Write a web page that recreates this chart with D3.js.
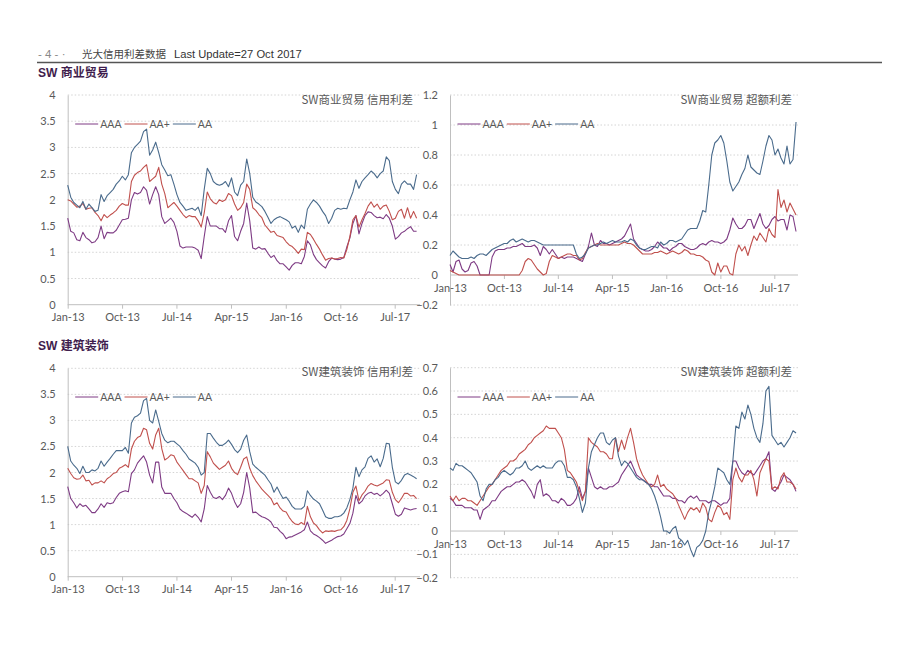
<!DOCTYPE html>
<html><head><meta charset="utf-8">
<script src="https://cdn.jsdelivr.net/npm/d3@7/dist/d3.min.js"></script>
<style>
body{margin:0;background:#fff;}
svg{display:block;}
</style></head>
<body>
<svg id="c" width="920" height="651"></svg>
<script>
// ---------- data ----------
const seriesNames = ["AAA", "AA+", "AA"];
const xTickLabels = ["Jan-13","Oct-13","Jul-14","Apr-15","Jan-16","Oct-16","Jul-17"];
const startDate = new Date(2013,0,1), endDate = new Date(2017,9,19);
const nPoints = 116;
const dates = d3.range(nPoints).map(i => new Date(+startDate + i*(endDate-startDate)/(nPoints-1)));

// SW 商业贸易 信用利差
const tradeCreditAAA = [1.65,1.4,1.37,1.24,1.22,1.38,1.28,1.24,1.18,1.2,
1.28,1.5,1.26,1.38,1.37,1.37,1.42,1.52,1.62,1.63,
1.65,2.0,2.14,2.11,2.14,2.25,2.18,1.92,2.1,2.25,
2.1,1.68,1.55,1.6,1.65,1.57,1.4,1.12,1.08,1.1,
1.1,1.1,1.08,1.04,0.88,1.3,1.68,1.5,1.5,1.5,
1.45,1.45,1.38,1.6,1.7,1.3,1.22,1.4,1.55,1.94,
1.6,1.08,1.06,1.1,1.06,1.07,0.98,0.9,0.94,0.84,
0.78,0.78,0.72,0.66,0.75,0.8,0.8,0.78,0.92,1.22,
1.14,0.96,0.86,0.8,0.74,0.7,0.82,0.89,0.87,0.86,
0.87,0.9,1.1,1.27,1.55,1.7,1.35,1.55,1.7,1.77,
1.76,1.7,1.66,1.67,1.64,1.72,1.65,1.5,1.25,1.3,
1.37,1.4,1.45,1.49,1.4,1.4];
const tradeCreditAAp = [2.0,1.98,1.92,1.86,1.88,1.93,1.82,1.84,1.85,1.76,
1.7,1.6,1.72,1.66,1.71,1.75,1.8,1.88,1.93,1.9,
1.9,2.35,2.47,2.52,2.55,2.62,2.67,2.35,2.4,2.45,
2.62,2.3,2.12,1.85,1.9,1.95,1.88,1.8,1.72,1.66,
1.7,1.68,1.68,1.6,1.48,1.75,2.15,2.02,1.95,1.92,
2.0,1.97,2.0,2.12,2.08,1.92,1.8,1.85,1.95,2.3,
2.2,1.85,1.8,1.72,1.66,1.52,1.45,1.38,1.4,1.32,
1.3,1.28,1.2,1.14,1.11,1.05,0.98,1.06,1.05,1.38,
1.34,1.25,1.15,1.06,0.95,0.85,0.88,0.89,0.87,0.88,
0.9,0.89,1.05,1.3,1.62,1.7,1.48,1.62,1.74,1.88,
1.96,1.86,1.92,1.82,1.88,1.9,1.78,1.62,1.65,1.78,
1.82,1.65,1.85,1.65,1.78,1.65];
const tradeCreditAA = [2.28,2.05,1.95,1.9,1.85,1.97,1.82,1.92,1.85,1.78,
1.8,2.1,1.97,2.08,2.14,2.2,2.3,2.36,2.45,2.38,
2.48,2.9,3.0,3.06,3.12,3.3,3.35,2.85,2.95,3.1,
2.9,2.67,2.57,2.46,2.48,2.3,2.1,1.95,1.88,1.8,
1.82,1.84,1.8,1.86,1.7,2.2,2.6,2.5,2.35,2.3,
2.28,2.3,2.35,2.25,2.42,2.15,2.08,2.28,2.35,2.78,
2.5,2.05,1.96,1.92,1.87,1.78,1.67,1.55,1.62,1.66,
1.68,1.65,1.62,1.58,1.46,1.5,1.38,1.52,1.45,1.82,
1.92,2.0,1.95,1.88,1.78,1.7,1.55,1.65,1.8,1.84,
1.82,1.84,1.83,2.0,2.15,2.38,2.22,2.35,2.42,2.48,
2.55,2.5,2.42,2.5,2.55,2.82,2.75,2.35,2.2,2.12,
2.3,2.36,2.3,2.3,2.2,2.48];

// SW 商业贸易 超额利差
const tradeExcessAAA = [0.07,0.02,0.09,0.1,0.04,0.02,0.03,0.08,0.09,0.06,
0,0,0,0,0.12,0.16,0.17,0.17,0.17,0.18,
0.18,0.19,0.19,0.2,0.21,0.19,0.19,0.19,0.2,0.18,
0.13,0.19,0.17,0.14,0.17,0.14,0.11,0.12,0.11,0.12,
0.12,0.12,0.11,0.1,0.09,0.14,0.19,0.28,0.2,0.19,
0.23,0.21,0.21,0.2,0.21,0.22,0.23,0.24,0.26,0.3,
0.34,0.24,0.21,0.18,0.17,0.16,0.16,0.17,0.19,0.22,
0.2,0.18,0.18,0.16,0.18,0.19,0.21,0.21,0.19,0.18,
0.17,0.17,0.18,0.2,0.21,0.2,0.22,0.23,0.22,0.22,
0.21,0.22,0.24,0.3,0.38,0.34,0.31,0.31,0.33,0.37,
0.37,0.31,0.36,0.41,0.34,0.31,0.33,0.37,0.39,0.36,
0.37,0.37,0.3,0.4,0.39,0.29];
const tradeExcessAAp = [0.03,0.02,0.01,0,0,0,0,0,0,0,
0,0,0,0,0,0,0,0,0,0,
0,0,0,0,0.03,0.09,0.11,0.1,0.07,0.04,
0.02,0,0.01,0.09,0.13,0.12,0.11,0.12,0.13,0.14,
0.14,0.13,0.13,0.1,0.11,0.15,0.18,0.19,0.2,0.21,
0.2,0.2,0.2,0.2,0.2,0.2,0.2,0.21,0.22,0.21,
0.21,0.2,0.18,0.16,0.14,0.14,0.14,0.14,0.15,0.15,
0.16,0.15,0.14,0.15,0.16,0.15,0.14,0.15,0.17,0.16,
0.14,0.14,0.13,0.13,0.12,0.1,0.09,0.02,0,0.08,
0.02,0.06,0.06,0.01,0,0.14,0.2,0.16,0.19,0.13,
0.2,0.26,0.23,0.28,0.25,0.22,0.31,0.27,0.25,0.57,
0.45,0.5,0.42,0.48,0.44,0.4];
const tradeExcessAA = [0.13,0.16,0.14,0.12,0.11,0.11,0.11,0.12,0.11,0.13,
0.14,0.14,0.13,0.15,0.17,0.18,0.19,0.2,0.21,0.21,
0.23,0.24,0.22,0.23,0.24,0.23,0.22,0.23,0.23,0.22,
0.21,0.2,0.2,0.2,0.2,0.2,0.2,0.2,0.2,0.2,
0.2,0.2,0.14,0.11,0.12,0.14,0.18,0.19,0.2,0.2,
0.21,0.22,0.21,0.22,0.23,0.22,0.22,0.22,0.23,0.22,
0.24,0.23,0.2,0.18,0.17,0.17,0.18,0.19,0.19,0.18,
0.22,0.2,0.21,0.23,0.23,0.22,0.23,0.24,0.27,0.3,
0.31,0.31,0.31,0.36,0.43,0.42,0.6,0.8,0.88,0.9,
0.93,0.88,0.76,0.62,0.56,0.59,0.62,0.67,0.71,0.8,
0.72,0.7,0.68,0.67,0.76,0.86,0.93,0.9,0.8,0.84,
0.78,0.74,0.86,0.74,0.77,1.02];

// SW 建筑装饰 信用利差
const constrCreditAAA = [1.73,1.5,1.42,1.32,1.4,1.35,1.37,1.3,1.23,1.23,
1.3,1.4,1.33,1.42,1.4,1.42,1.52,1.6,1.63,1.65,
1.63,1.98,2.05,2.18,2.25,2.32,2.2,1.95,1.8,2.2,
2.2,1.72,1.6,1.6,1.6,1.5,1.42,1.3,1.25,1.22,
1.18,1.14,1.2,1.14,1.05,1.3,1.75,1.62,1.52,1.5,
1.54,1.48,1.56,1.7,1.6,1.44,1.33,1.4,1.62,2.0,
1.7,1.23,1.24,1.19,1.15,1.13,1.1,1.05,0.95,0.94,
0.87,0.82,0.73,0.76,0.77,0.8,0.83,0.86,0.9,1.05,
0.88,0.82,0.79,0.75,0.7,0.64,0.67,0.7,0.74,0.77,
0.78,0.82,0.92,1.02,1.22,1.56,1.4,1.45,1.55,1.6,
1.62,1.58,1.6,1.55,1.6,1.66,1.6,1.4,1.2,1.16,
1.2,1.32,1.3,1.28,1.3,1.31];
const constrCreditAAp = [2.08,1.98,1.9,1.87,1.88,1.95,1.84,1.85,1.76,1.8,
1.8,1.84,1.8,1.88,1.92,1.98,2.0,2.08,2.11,2.15,
2.1,2.45,2.6,2.67,2.7,2.85,2.82,2.56,2.45,2.72,
2.85,2.46,2.24,2.28,2.34,2.32,2.2,2.12,2.04,1.96,
1.88,1.88,1.84,1.8,1.6,1.75,2.4,2.3,2.18,2.12,
2.06,2.1,2.14,2.22,2.08,2.0,1.96,2.1,2.26,2.3,
2.08,1.94,1.84,1.76,1.68,1.62,1.56,1.5,1.38,1.42,
1.32,1.26,1.24,1.14,1.06,1.01,1.0,1.04,1.0,1.35,
1.15,1.03,0.98,0.9,0.84,0.88,0.87,0.88,0.87,0.89,
0.9,0.96,1.08,1.3,1.62,1.74,1.46,1.57,1.64,1.74,
1.79,1.76,1.74,1.77,1.8,1.86,1.85,1.62,1.48,1.42,
1.5,1.6,1.6,1.55,1.56,1.5];
const constrCreditAA = [2.5,2.22,2.14,2.08,1.98,2.12,2.0,2.0,2.05,2.03,
2.08,2.22,2.12,2.2,2.27,2.35,2.42,2.42,2.42,2.48,
2.37,2.95,3.06,3.09,3.14,3.38,3.42,3.0,2.95,3.2,
2.98,2.75,2.62,2.57,2.6,2.6,2.55,2.5,2.42,2.35,
2.26,2.22,2.18,2.1,1.95,2.0,2.75,2.75,2.66,2.58,
2.52,2.52,2.56,2.62,2.54,2.44,2.38,2.45,2.62,2.72,
2.4,2.16,2.1,2.05,2.0,1.95,1.86,1.78,1.62,1.72,
1.6,1.5,1.53,1.45,1.35,1.3,1.3,1.3,1.35,1.65,
1.56,1.49,1.45,1.4,1.28,1.15,1.12,1.12,1.15,1.15,
1.17,1.22,1.32,1.48,1.7,2.1,1.92,2.05,2.11,2.27,
2.32,2.2,2.26,2.11,2.27,2.56,2.55,2.1,1.82,1.78,
1.85,1.95,1.98,1.95,1.92,1.88];

// SW 建筑装饰 超额利差
const constrExcessAAA = [0.14,0.13,0.11,0.11,0.11,0.1,0.1,0.1,0.09,0.09,
0.05,0.09,0.1,0.11,0.13,0.13,0.15,0.17,0.18,0.19,
0.19,0.2,0.21,0.21,0.22,0.21,0.19,0.17,0.14,0.2,
0.22,0.15,0.16,0.15,0.13,0.13,0.12,0.14,0.13,0.11,
0.11,0.12,0.14,0.19,0.14,0.17,0.27,0.23,0.19,0.18,
0.19,0.18,0.18,0.19,0.19,0.2,0.21,0.24,0.26,0.28,
0.3,0.27,0.24,0.23,0.22,0.21,0.2,0.2,0.19,0.19,
0.17,0.15,0.15,0.15,0.14,0.14,0.13,0.13,0.12,0.14,
0.15,0.14,0.15,0.13,0.13,0.13,0.12,0.13,0.13,0.12,
0.11,0.12,0.12,0.14,0.3,0.3,0.27,0.25,0.24,0.26,
0.25,0.24,0.26,0.28,0.3,0.31,0.34,0.18,0.17,0.19,
0.21,0.24,0.23,0.22,0.2,0.17];
const constrExcessAAp = [0.15,0.13,0.15,0.13,0.14,0.14,0.13,0.13,0.12,0.11,
0.13,0.15,0.17,0.19,0.2,0.22,0.24,0.26,0.27,0.28,
0.3,0.3,0.31,0.33,0.34,0.35,0.37,0.38,0.4,0.41,
0.42,0.43,0.45,0.44,0.44,0.44,0.42,0.4,0.35,0.26,
0.25,0.23,0.21,0.17,0.13,0.17,0.4,0.38,0.37,0.36,
0.34,0.34,0.33,0.31,0.31,0.4,0.34,0.39,0.35,0.4,
0.44,0.38,0.31,0.27,0.24,0.22,0.2,0.19,0.2,0.24,
0.19,0.2,0.18,0.17,0.16,0.14,0.11,0.08,0.05,0.08,
0.1,0.09,0.1,0.08,0.12,0.1,0.05,0.04,0.08,0.11,
0.1,0.07,0.08,0.05,0.22,0.27,0.23,0.21,0.24,0.24,
0.26,0.22,0.15,0.25,0.28,0.31,0.3,0.18,0.19,0.18,
0.23,0.25,0.21,0.21,0.2,0.18];
const constrExcessAA = [0.27,0.26,0.29,0.28,0.28,0.27,0.26,0.25,0.23,0.21,
0.15,0.13,0.18,0.2,0.2,0.22,0.23,0.25,0.26,0.25,
0.24,0.25,0.27,0.27,0.28,0.3,0.27,0.26,0.27,0.28,
0.27,0.28,0.27,0.27,0.27,0.29,0.3,0.3,0.28,0.23,
0.23,0.22,0.19,0.14,0.08,0.12,0.27,0.34,0.37,0.4,
0.42,0.42,0.38,0.37,0.39,0.4,0.32,0.28,0.3,0.29,
0.27,0.25,0.23,0.22,0.22,0.21,0.2,0.18,0.15,0.11,
0.06,0.0,0.0,-0.01,0.01,0.02,-0.03,-0.04,-0.06,-0.04,
-0.08,-0.11,-0.07,-0.06,-0.04,0.0,0.08,0.13,0.19,0.27,
0.26,0.25,0.22,0.2,0.3,0.45,0.44,0.51,0.48,0.54,
0.5,0.44,0.4,0.38,0.46,0.6,0.62,0.41,0.39,0.37,
0.38,0.36,0.38,0.4,0.43,0.42];

const creditTicks = [0,0.5,1,1.5,2,2.5,3,3.5,4];
const tradeExcessTicks = [-0.2,0,0.2,0.4,0.6,0.8,1,1.2];
const constrExcessTicks = [-0.2,-0.1,0,0.1,0.2,0.3,0.4,0.5,0.6,0.7];

// ---------- styling / layout ----------
const colors = ["#7e3b84", "#c0504d", "#4a6b8c"];
const txtCol = "#595959";
const tickFont = "Lato, 'Noto Sans', sans-serif";
const cjkFont = "'Noto Sans CJK SC', sans-serif";

const svg = d3.select("#c");

// header
svg.append("text").attr("x",38).attr("y",58).attr("font-family","'Liberation Sans', Arial, sans-serif")
  .attr("font-size",11.5).attr("fill","#888").text("- 4 - ·");
svg.append("text").attr("x",82).attr("y",58).attr("font-family",cjkFont)
  .attr("font-size",10.5).attr("fill","#444").text("光大信用利差数据");
svg.append("text").attr("x",174).attr("y",58).attr("font-family","'Liberation Sans', Arial, sans-serif")
  .attr("font-size",11.2).attr("fill","#333").text("Last Update=27 Oct 2017");
svg.append("line").attr("x1",37).attr("x2",882).attr("y1",62.5).attr("y2",62.5)
  .attr("stroke","#555").attr("stroke-width",1.4);

function sectionTitle(y, t){
  svg.append("text").attr("x",38).attr("y",y).attr("font-family","'Liberation Sans', 'Noto Sans CJK SC', sans-serif")
    .attr("font-weight","bold").attr("font-size",12).attr("fill","#3f1d4d").text(t);
}
sectionTitle(77, "SW 商业贸易");
sectionTitle(349.5, "SW 建筑装饰");

const panels = [
  {x0:67.7, xJul:394.7, x1:420, yTop:95, yBot:304.7, domain:[0,4], ticks:creditTicks,
   series:[tradeCreditAAA,tradeCreditAAp,tradeCreditAA], title:"SW商业贸易 信用利差", titleX:413, titleY:104, legY:124},
  {x0:450, xJul:774.3, x1:798, yTop:95, yBot:305, domain:[-0.2,1.2], ticks:tradeExcessTicks,
   series:[tradeExcessAAA,tradeExcessAAp,tradeExcessAA], title:"SW商业贸易 超额利差", titleX:792, titleY:104, legY:124},
  {x0:67.7, xJul:394.7, x1:420, yTop:368.3, yBot:576.7, domain:[0,4], ticks:creditTicks,
   series:[constrCreditAAA,constrCreditAAp,constrCreditAA], title:"SW建筑装饰 信用利差", titleX:413, titleY:376, legY:397},
  {x0:450, xJul:774.3, x1:798, yTop:367.7, yBot:577.7, domain:[-0.2,0.7], ticks:constrExcessTicks,
   series:[constrExcessAAA,constrExcessAAp,constrExcessAA], title:"SW建筑装饰 超额利差", titleX:792, titleY:376, legY:397}
];

const tickDates = xTickLabels.map(s => d3.timeParse("%b-%y")(s));

panels.forEach(p => {
  const g = svg.append("g");
  const x = d3.scaleTime().domain([new Date(2013,0,1), new Date(2017,6,1)]).range([p.x0, p.xJul]);
  const y = d3.scaleLinear().domain(p.domain).range([p.yBot, p.yTop]);
  const y0 = y(0);

  // gridlines (dotted)
  g.selectAll("line.grid").data(p.ticks.filter(t => t !== 0)).enter().append("line")
    .attr("x1", p.x0).attr("x2", p.x1).attr("y1", d => y(d)).attr("y2", d => y(d))
    .attr("stroke","#d4d4d4").attr("stroke-width",1).attr("stroke-dasharray","1.5,2");

  // y axis
  const yAxis = d3.axisLeft(y).tickValues(p.ticks).tickSize(0).tickPadding(12).tickFormat(d3.format(""));
  const ya = g.append("g").attr("transform",`translate(${p.x0},0)`).call(yAxis);
  ya.select(".domain").attr("stroke","#bfbfbf");
  ya.selectAll("text").attr("font-family",tickFont).attr("font-size",11).attr("fill",txtCol);

  // x axis at value 0
  const xAxis = d3.axisBottom(x).tickValues(tickDates).tickSize(4).tickPadding(5)
    .tickFormat(d3.timeFormat("%b-%y"));
  const xa = g.append("g").attr("transform",`translate(0,${y0})`).call(xAxis);
  xa.select(".domain").attr("d",`M${p.x0},0H${p.x1}`).attr("stroke","#bfbfbf");
  xa.selectAll(".tick line").attr("stroke","#bfbfbf");
  xa.selectAll("text").attr("font-family",tickFont).attr("font-size",11).attr("fill",txtCol);

  // series lines
  const line = d3.line().x((d,i) => x(dates[i])).y(d => y(d));
  p.series.forEach((s, k) => {
    g.append("path").datum(s).attr("d", line).attr("fill","none")
      .attr("stroke", colors[k]).attr("stroke-width",1.1).attr("stroke-linejoin","round");
  });

  // title
  g.append("text").attr("x",p.titleX).attr("y",p.titleY).attr("text-anchor","end")
    .attr("font-family",cjkFont).attr("font-size",11.5).attr("fill",txtCol).text(p.title);

  // legend
  const legX = p.x0 + 7.5;
  const segW = 23, gap = 2;
  let cx = legX;
  seriesNames.forEach((n,k) => {
    g.append("line").attr("x1",cx).attr("x2",cx+segW).attr("y1",p.legY).attr("y2",p.legY)
      .attr("stroke",colors[k]).attr("stroke-width",1);
    const t = g.append("text").attr("x",cx+segW+gap).attr("y",p.legY+4)
      .attr("font-family",tickFont).attr("font-size",10.5).attr("fill",txtCol).text(n);
    cx += segW + gap + t.node().getComputedTextLength() + 3;
  });
});
</script>
</body></html>
